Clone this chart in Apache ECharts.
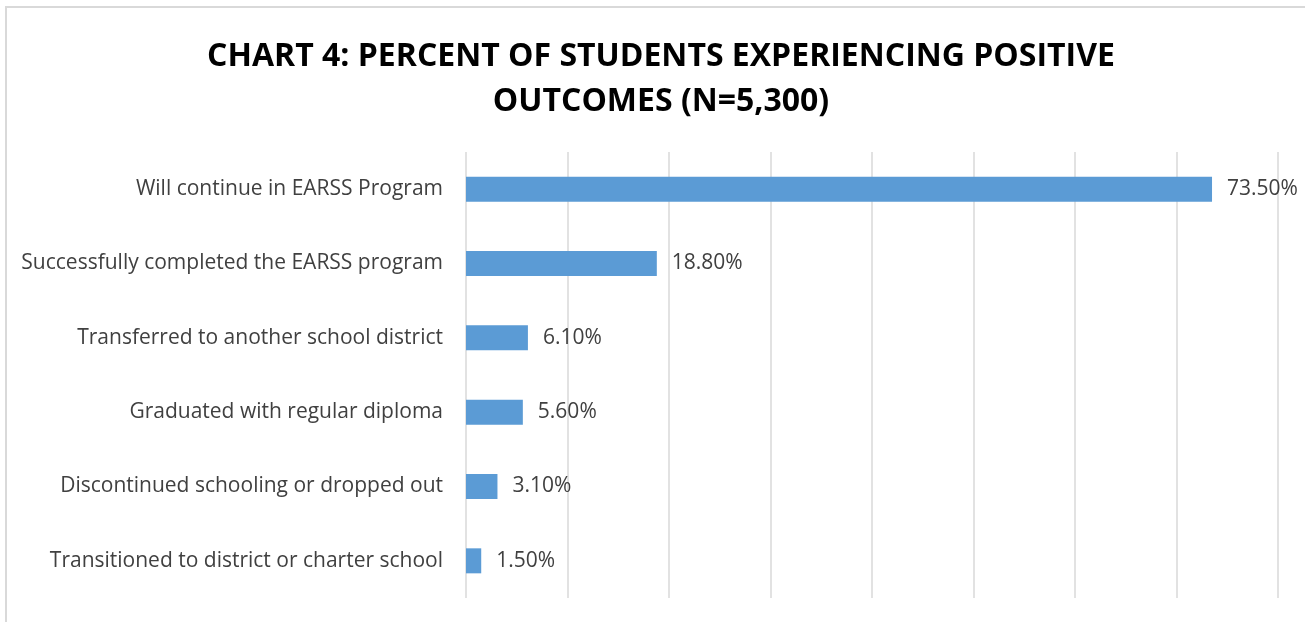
<!DOCTYPE html>
<html><head><meta charset="utf-8">
<style>
html,body{margin:0;padding:0;background:#fff;overflow:hidden;}
#frame{position:absolute;left:5px;top:6px;width:1400px;height:700px;border:2px solid #d9d9d9;box-sizing:border-box;}
#chart{position:absolute;left:0;top:0;width:1305px;height:622px;}
</style>
<script src="https://cdn.jsdelivr.net/npm/echarts@6/dist/echarts.min.js"></script>
</head><body>
<div id="frame"></div>
<div id="chart"></div>
<script>
const titleText = 'CHART 4: PERCENT OF STUDENTS EXPERIENCING POSITIVE\nOUTCOMES (N=5,300)';
const categories = [
  'Will continue in EARSS Program',
  'Successfully completed the EARSS program',
  'Transferred to another school district',
  'Graduated with regular diploma',
  'Discontinued schooling or dropped out',
  'Transitioned to district or charter school'
];
const values = [73.5, 18.8, 6.1, 5.6, 3.1, 1.5];

const chart = echarts.init(document.getElementById('chart'));
chart.setOption({
  animation: false,
  title: {
    text: titleText,
    left: 656, top: 29, textAlign: 'center',
    textStyle: {fontFamily: 'Open Sans', fontWeight: 'bold', fontSize: 32, color: '#000', lineHeight: 45}
  },
  grid: {left: 466, right: 27, top: 152, bottom: 24, containLabel: false},
  xAxis: {
    type: 'value', min: 0, max: 80, interval: 10,
    axisLabel: {show: false}, axisLine: {show: false}, axisTick: {show: false},
    splitLine: {show: true, lineStyle: {color: '#d9d9d9', width: 1.5}}
  },
  yAxis: {
    type: 'category', data: categories, inverse: true,
    axisLine: {show: false}, axisTick: {show: false},
    axisLabel: {fontFamily: 'Open Sans', fontSize: 21, color: '#404040', margin: 23}
  },
  series: [{
    type: 'bar', data: values, barWidth: 25,
    itemStyle: {color: '#5b9bd5'},
    label: {show: true, position: 'right', distance: 15,
      formatter: p => p.value.toFixed(2) + '%',
      fontFamily: 'Open Sans', fontSize: 21, color: '#404040'}
  }]
});
</script>
</body></html>
